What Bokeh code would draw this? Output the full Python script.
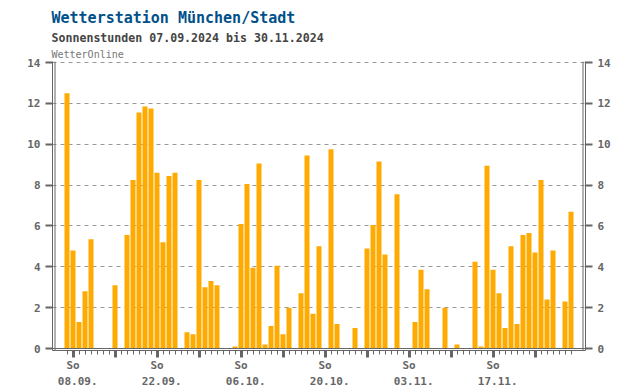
import datetime
from bokeh.plotting import figure
from bokeh.models import Range1d, FixedTicker, LinearAxis, Span, Title
from bokeh.embed import file_html
from bokeh.resources import INLINE

# ---- data ----
start_date = datetime.date(2024, 9, 7)
sun_hours = [12.5, 4.8, 1.3, 2.8, 5.35, 0, 0, 0, 3.1, 0,
             5.55, 8.25, 11.55, 11.85, 11.75, 8.6, 5.2, 8.45, 8.6, 0,
             0.8, 0.7, 8.25, 3.0, 3.3, 3.1, 0, 0, 0.1, 6.1,
             8.05, 3.95, 9.05, 0.2, 1.1, 4.05, 0.7, 2.0, 0, 2.7,
             9.45, 1.7, 5.0, 0, 9.75, 1.2, 0, 0, 1.0, 0,
             4.9, 6.05, 9.15, 4.6, 0, 7.55, 0, 0, 1.3, 3.85,
             2.9, 0, 0, 2.0, 0, 0.2, 0, 0, 4.25, 0.1,
             8.95, 3.85, 2.7, 1.0, 5.0, 1.2, 5.55, 5.65, 4.7, 8.25,
             2.4, 4.8, 0, 2.3, 6.7]
y_ticks = [0, 2, 4, 6, 8, 10, 12, 14]
weekday_label = "So"
date_labels = ["08.09.", "22.09.", "06.10.", "20.10.", "03.11.", "17.11."]

day_index = list(range(len(sun_hours)))
sundays = [i for i in day_index
           if (start_date + datetime.timedelta(days=i)).weekday() == 6]
labelled = sundays[::2]

FONT = "DejaVu Sans Mono"
GRAY = "#666666"
PX_DAY = 6.0
PX_UNIT = 286.0 / 14.0

# frame: outer line box
x0 = -2 - 2.5 / PX_DAY
x1 = 86 + 2.5 / PX_DAY
y0 = -2.0 / PX_UNIT
fh = 289
y1 = y0 + fh / PX_UNIT

p = figure(frame_width=533, frame_height=fh,
           x_range=Range1d(x0, x1), y_range=Range1d(y0, y1),
           output_backend="svg", toolbar_location=None,
           min_border_left=52, min_border_right=40,
           min_border_top=61, min_border_bottom=0)
p.outline_line_color = None
p.background_fill_color = "white"

# titles (last added is outermost)
p.add_layout(Title(text="WetterOnline", text_font=FONT, text_font_size="10px",
                   text_font_style="normal", text_color="#777777",
                   align="left", standoff=3, offset=-1), "above")
p.add_layout(Title(text="Sonnenstunden 07.09.2024 bis 30.11.2024", text_font=FONT,
                   text_font_size="11.6px", text_font_style="bold",
                   text_color="#444444", align="left", standoff=2, offset=-1), "above")
p.add_layout(Title(text="Wetterstation München/Stadt", text_font=FONT,
                   text_font_size="15px", text_font_style="bold",
                   text_color="#00508a", align="left", standoff=2, offset=-1), "above")

# bars
p.vbar(x=day_index, top=sun_hours, bottom=0, width=5.0 / PX_DAY,
       fill_color="#ffaa00", line_color=None)

# y axes
yticker = FixedTicker(ticks=y_ticks)

def style_y(ax):
    ax.ticker = yticker
    ax.axis_line_color = GRAY
    ax.axis_line_width = 1
    ax.major_tick_line_color = GRAY
    ax.major_tick_line_width = 2
    ax.major_tick_out = 7
    ax.major_tick_in = 0
    ax.minor_tick_line_color = None
    ax.major_label_text_font = FONT
    ax.major_label_text_font_size = "11px"
    ax.major_label_text_font_style = "bold"
    ax.major_label_text_color = GRAY
    ax.major_label_standoff = 5

style_y(p.yaxis[0])
right_axis = LinearAxis()
style_y(right_axis)
p.add_layout(right_axis, "right")

# x axes
xax = p.xaxis[0]
xax.ticker = FixedTicker(ticks=sundays, minor_ticks=day_index)
xax.axis_line_color = GRAY
xax.major_tick_line_color = GRAY
xax.major_tick_line_width = 3
xax.major_tick_out = 7
xax.major_tick_in = 0
xax.minor_tick_line_color = GRAY
xax.minor_tick_line_width = 1
xax.minor_tick_out = 4
xax.minor_tick_in = 0
xax.major_label_overrides = {s: (weekday_label if s in labelled else "") for s in sundays}
xax.major_label_text_font = FONT
xax.major_label_text_font_size = "11px"
xax.major_label_text_font_style = "bold"
xax.major_label_text_color = GRAY
xax.major_label_standoff = 1

shift = 0.78
date_ticks = [s + shift for s in labelled]
xax2 = LinearAxis(ticker=FixedTicker(ticks=date_ticks))
xax2.major_label_overrides = {t: lab for t, lab in zip(date_ticks, date_labels)}
xax2.axis_line_color = None
xax2.major_tick_line_color = None
xax2.minor_tick_line_color = None
xax2.major_label_text_font = FONT
xax2.major_label_text_font_size = "11px"
xax2.major_label_text_font_style = "bold"
xax2.major_label_text_color = GRAY
xax2.major_label_standoff = -4
p.add_layout(xax2, "below")

# grid
p.xgrid.grid_line_color = None
p.ygrid.ticker = yticker
p.ygrid.grid_line_color = "#999999"
p.ygrid.grid_line_dash = "4 4"
p.ygrid.grid_line_width = 1

# inner frame lines (double-line box)
for loc in (-2, 86):
    p.add_layout(Span(location=loc, dimension="height", line_color=GRAY, line_width=1))
p.add_layout(Span(location=0, dimension="width", line_color=GRAY, line_width=1))

open("out.html", "w").write(file_html(p, INLINE))
